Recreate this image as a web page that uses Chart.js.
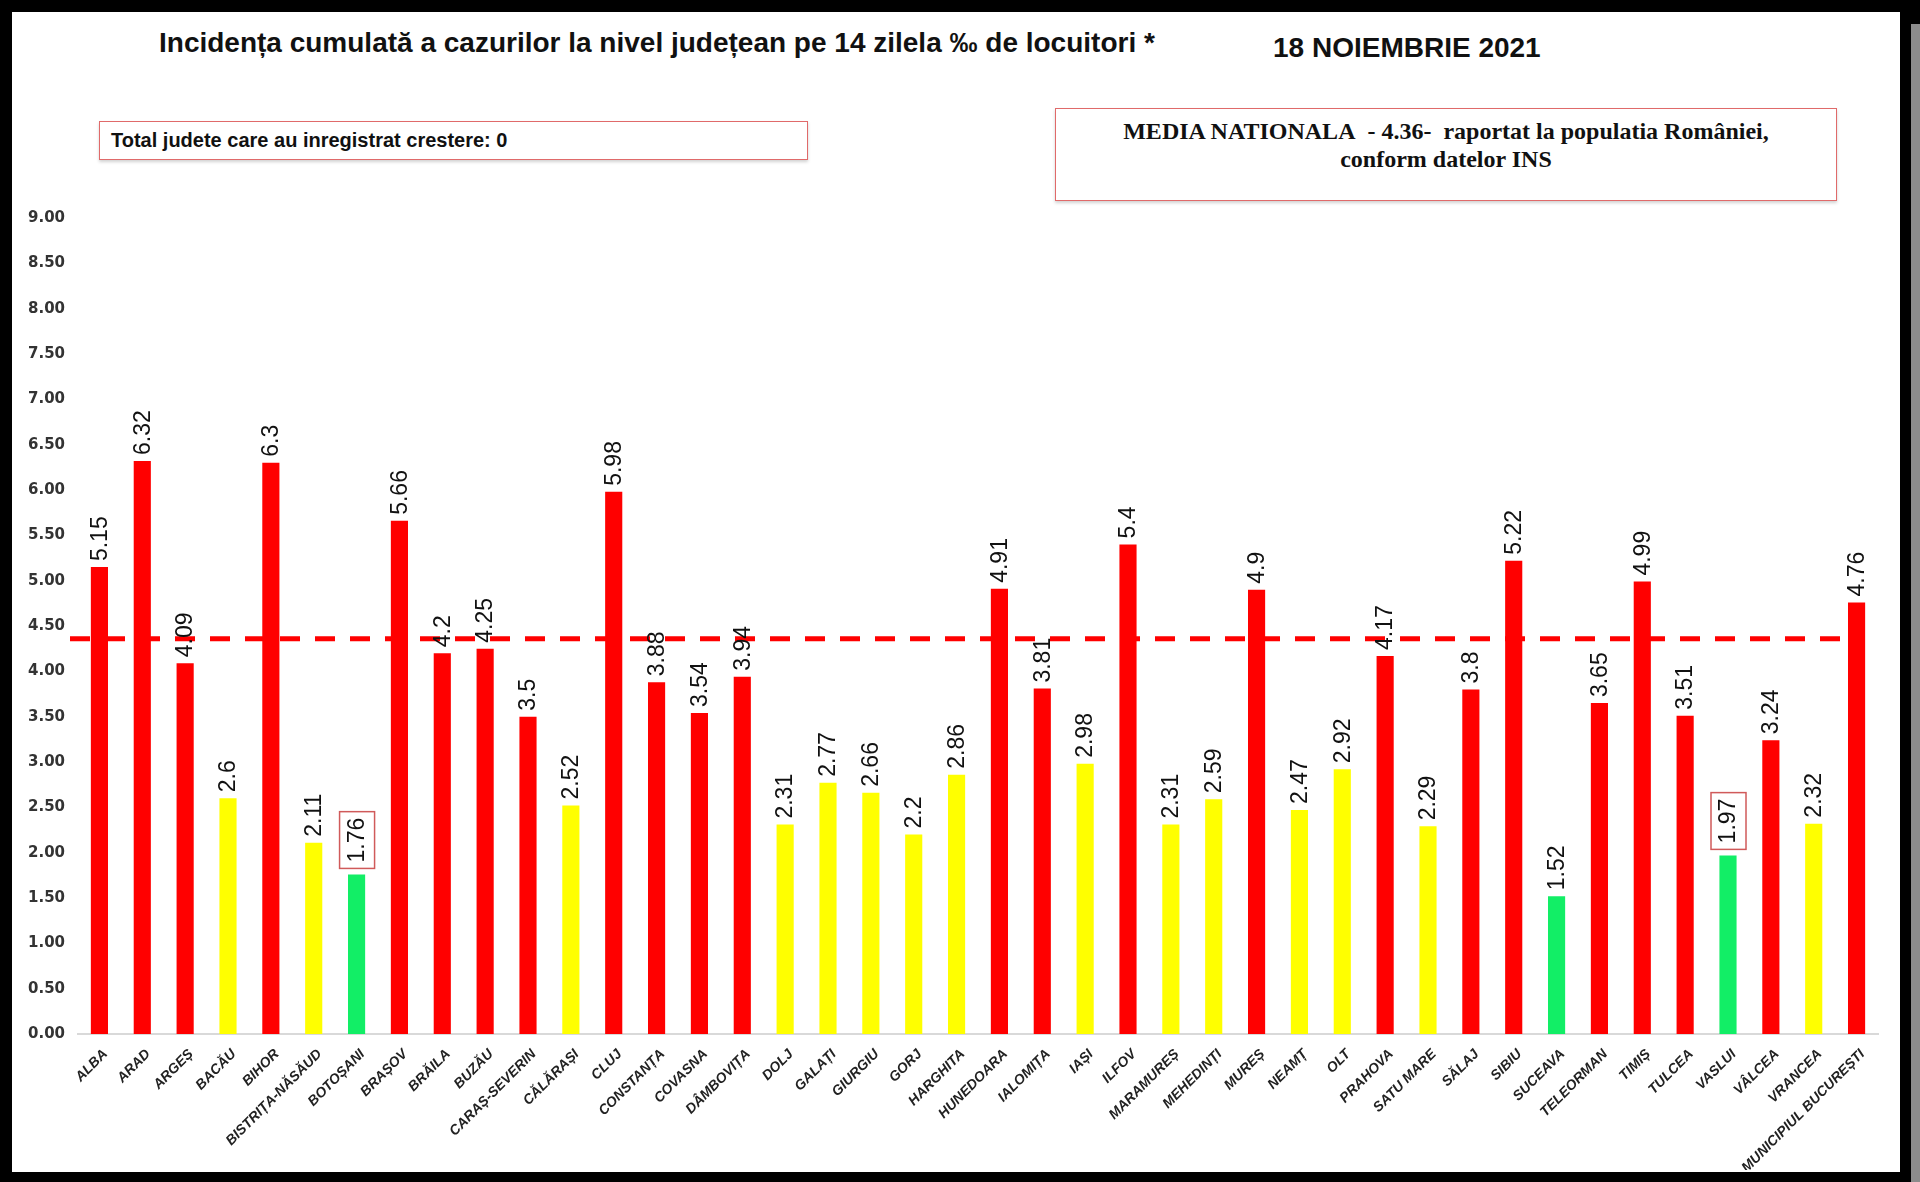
<!DOCTYPE html>
<html>
<head>
<meta charset="utf-8">
<script src="https://cdn.jsdelivr.net/npm/chart.js@4.4.0/dist/chart.umd.min.js"></script>
<style>
  html, body { margin: 0; padding: 0; background: #000; }
  body { width: 1920px; height: 1182px; position: relative; overflow: hidden; }
  #shadow { position: absolute; left: 1911px; top: 24px; width: 9px; height: 1158px; background: #8c8c8c; }
  #panel { position: absolute; left: 12px; top: 12px; width: 1888px; height: 1160px; background: #fff; }
  .txt { position: absolute; white-space: nowrap; color: #111; }
  #title { left: 159px; top: 27px; font: bold 28px "Liberation Sans", sans-serif; }
  #date { left: 1273px; top: 32px; font: bold 28px "Liberation Sans", sans-serif; }
  .box { position: absolute; border: 1.5px solid #e06a6a; box-shadow: 0 2px 3px rgba(0,0,0,0.18); background: #fff; }
  #box1 { left: 99px; top: 121px; width: 707px; height: 37px; }
  #box1 span { position: absolute; left: 11px; top: 7px; font: bold 20px "Liberation Sans", sans-serif; color: #111; }
  #box2 { left: 1055px; top: 108px; width: 780px; height: 91px; text-align: center;
          font: bold 24px "Liberation Serif", serif; color: #111; line-height: 28px; }
  #box2 div { padding-top: 8px; }
  #wrap { position: absolute; left: 12px; top: 200px; width: 1888px; height: 970px; }
</style>
</head>
<body>
<div id="shadow"></div>
<div id="panel"></div>
<div class="txt" id="title">Incidența cumulată a cazurilor la nivel județean pe 14 zilela ‰ de locuitori *</div>
<div class="txt" id="date">18 NOIEMBRIE 2021</div>
<div class="box" id="box1"><span>Total judete care au inregistrat crestere: 0</span></div>
<div class="box" id="box2"><div>MEDIA NATIONALA&nbsp; - 4.36-&nbsp; raportat la populatia României,<br>conform datelor INS</div></div>
<div id="wrap"><canvas id="chart"></canvas></div>
<script>
// judete
const counties = [
  "ALBA", "ARAD", "ARGEȘ", "BACĂU", "BIHOR", "BISTRIȚA-NĂSĂUD", "BOTOȘANI", "BRAȘOV",
  "BRĂILA", "BUZĂU", "CARAȘ-SEVERIN", "CĂLĂRAȘI", "CLUJ", "CONSTANȚA", "COVASNA", "DÂMBOVIȚA",
  "DOLJ", "GALAȚI", "GIURGIU", "GORJ", "HARGHITA", "HUNEDOARA", "IALOMIȚA", "IAȘI",
  "ILFOV", "MARAMUREȘ", "MEHEDINȚI", "MUREȘ", "NEAMȚ", "OLT", "PRAHOVA", "SATU MARE",
  "SĂLAJ", "SIBIU", "SUCEAVA", "TELEORMAN", "TIMIȘ", "TULCEA", "VASLUI", "VÂLCEA",
  "VRANCEA", "MUNICIPIUL BUCUREȘTI"
];

// incidenta la 14 zile
const incidence = [
  5.15, 6.32, 4.09, 2.6, 6.3, 2.11, 1.76, 5.66,
  4.2, 4.25, 3.5, 2.52, 5.98, 3.88, 3.54, 3.94,
  2.31, 2.77, 2.66, 2.2, 2.86, 4.91, 3.81, 2.98,
  5.4, 2.31, 2.59, 4.9, 2.47, 2.92, 4.17, 2.29,
  3.8, 5.22, 1.52, 3.65, 4.99, 3.51, 1.97, 3.24,
  2.32, 4.76
];

const yTicks = [0, 0.5, 1, 1.5, 2, 2.5, 3, 3.5, 4, 4.5, 5, 5.5, 6, 6.5, 7, 7.5, 8, 8.5, 9];
const nationalAverage = 4.36;
const boxedCounties = ["BOTOȘANI", "VASLUI"];

// culoare dupa prag
function barColor(v) {
  if (v < 2) return "#12ee66";
  if (v < 3) return "#ffff00";
  return "#ff0000";
}

const averageLine = {
  id: "averageLine",
  afterDatasetsDraw(chart) {
    const { ctx, chartArea, scales } = chart;
    const y = scales.y.getPixelForValue(nationalAverage);
    const last = chart.getDatasetMeta(0).data[incidence.length - 1];
    ctx.save();
    ctx.strokeStyle = "#ff0000";
    ctx.lineWidth = 5;
    ctx.setLineDash([20, 15]);
    ctx.beginPath();
    ctx.moveTo(chartArea.left - 8, y);
    ctx.lineTo(last.x - last.width / 2, y);
    ctx.stroke();
    ctx.restore();
  }
};

const valueLabels = {
  id: "valueLabels",
  afterDraw(chart) {
    const { ctx } = chart;
    const meta = chart.getDatasetMeta(0);
    ctx.save();
    ctx.font = "23px 'Liberation Sans', Arial, sans-serif";
    ctx.fillStyle = "#111";
    ctx.textAlign = "left";
    ctx.textBaseline = "middle";
    meta.data.forEach((bar, i) => {
      const txt = String(incidence[i]);
      const boxed = boxedCounties.includes(counties[i]);
      const off = boxed ? 12 : 6;
      ctx.save();
      ctx.translate(bar.x, bar.y - off);
      ctx.rotate(-Math.PI / 2);
      ctx.fillText(txt, 0, 1);
      if (boxed) {
        const w = ctx.measureText(txt).width;
        ctx.strokeStyle = "#d05a5a";
        ctx.lineWidth = 1.5;
        ctx.strokeRect(-6, -17, w + 12, 35);
      }
      ctx.restore();
    });
    ctx.restore();
  }
};

new Chart(document.getElementById("chart"), {
  type: "bar",
  data: {
    labels: counties,
    datasets: [{
      data: incidence,
      backgroundColor: incidence.map(barColor),
      barPercentage: 0.4,
      categoryPercentage: 1.0
    }]
  },
  options: {
    responsive: true,
    maintainAspectRatio: false,
    animation: false,
    layout: { padding: { top: 18, right: 22, left: 0, bottom: 0 } },
    plugins: { legend: { display: false }, tooltip: { enabled: false } },
    scales: {
      x: {
        grid: { display: false },
        border: { display: true, color: "#d9d9d9", width: 2 },
        ticks: {
          autoSkip: false,
          maxRotation: 45,
          minRotation: 45,
          padding: 4,
          labelOffset: 6,
          color: "#222",
          font: { family: "'Liberation Sans', sans-serif", size: 14, weight: "bold", style: "italic" }
        },
        afterFit(scale) { scale.height = 136; }
      },
      y: {
        min: 0,
        max: 9,
        afterBuildTicks(scale) { scale.ticks = yTicks.map(v => ({ value: v })); },
        grid: { display: false },
        border: { display: false },
        ticks: {
          padding: 5,
          color: "#333",
          font: { family: "'DejaVu Sans', Verdana, sans-serif", size: 15, weight: "bold" },
          callback: v => v.toFixed(2)
        },
        afterFit(scale) { scale.width = 66; }
      }
    }
  },
  plugins: [averageLine, valueLabels]
});
</script>
</body>
</html>
